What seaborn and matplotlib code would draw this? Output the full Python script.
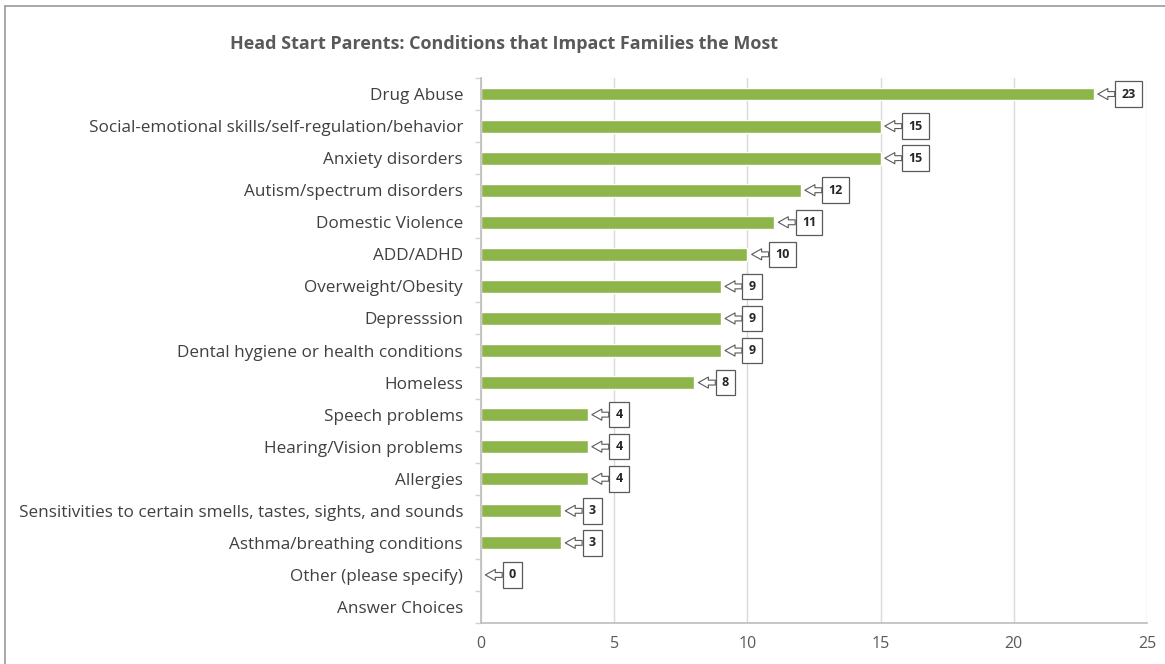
import matplotlib
matplotlib.use("Agg")
import matplotlib.pyplot as plt
import seaborn as sns
import pandas as pd
from matplotlib.lines import Line2D
from matplotlib.ticker import FixedLocator

categories = [
    "Drug Abuse",
    "Social-emotional skills/self-regulation/behavior",
    "Anxiety disorders",
    "Autism/spectrum disorders",
    "Domestic Violence",
    "ADD/ADHD",
    "Overweight/Obesity",
    "Depresssion",
    "Dental hygiene or health conditions",
    "Homeless",
    "Speech problems",
    "Hearing/Vision problems",
    "Allergies",
    "Sensitivities to certain smells, tastes, sights, and sounds",
    "Asthma/breathing conditions",
    "Other (please specify)",
    "Answer Choices",
]
counts = [23, 15, 15, 12, 11, 10, 9, 9, 9, 8, 4, 4, 4, 3, 3, 0, None]
x_ticks = [0, 5, 10, 15, 20, 25]

df = pd.DataFrame({"condition": categories, "count": counts})

sns.set_theme(style="white")
plt.rcParams["font.family"] = ["Open Sans", "DejaVu Sans"]

fig = plt.figure(figsize=(11.65, 6.64), dpi=100)
ax = fig.add_axes([0.413, 0.0617, 0.5715, 0.8208])

sns.barplot(data=df, y="condition", x="count", order=categories,
            color="#8DB54A", width=0.4, saturation=1, ax=ax, orient="h")

ax.set_xlim(0, 25)
ax.set_xticks(x_ticks)
ax.set_xticklabels([str(t) for t in x_ticks], fontsize=11.5, color="#595959")
ax.set_xlabel("")
ax.set_ylabel("")
ax.tick_params(axis="y", labelsize=12.3, labelcolor="#404040", length=0, pad=13)
ax.tick_params(axis="x", length=0, pad=9)
# small marks between category rows on the value axis
ax.yaxis.set_minor_locator(FixedLocator([i + 0.5 for i in range(-1, len(categories))]))
ax.tick_params(axis="y", which="minor", length=4, color="#C9D3E6", left=True)
ax.grid(axis="x", color="#D9D9D9", linewidth=1)
ax.set_axisbelow(True)
for side in ["top", "right"]:
    ax.spines[side].set_visible(False)
ax.spines["left"].set_color("#BFBFBF")
ax.spines["bottom"].set_color("#BFBFBF")

# value callouts to the right of each bar
for i, v in enumerate(counts):
    if v is None:
        continue
    ax.annotate(str(v), xy=(v, i), xytext=(20, 0), textcoords="offset points",
                va="center", ha="left", fontsize=9, fontweight="bold",
                color="#262626",
                bbox=dict(boxstyle="square,pad=0.5", fc="white",
                          ec="#595959", lw=0.9),
                arrowprops=dict(arrowstyle="simple,head_length=0.45,head_width=0.5,tail_width=0.22",
                                mutation_scale=16,
                                fc="white", ec="#595959", lw=0.8,
                                shrinkA=0, shrinkB=3))

fig.text(0.433, 0.934, "Head Start Parents: Conditions that Impact Families the Most",
         ha="center", va="center", fontsize=13, fontweight="bold",
         color="#595959")

# chart frame (top and left edges)
fig.add_artist(Line2D([5 / 1165, 5 / 1165], [0, 1 - 6 / 664],
                      transform=fig.transFigure, color="#9A9A9A", lw=1.2))
fig.add_artist(Line2D([5 / 1165, 1], [1 - 6 / 664, 1 - 6 / 664],
                      transform=fig.transFigure, color="#9A9A9A", lw=1.2))

fig.savefig("out.png", dpi=100)
